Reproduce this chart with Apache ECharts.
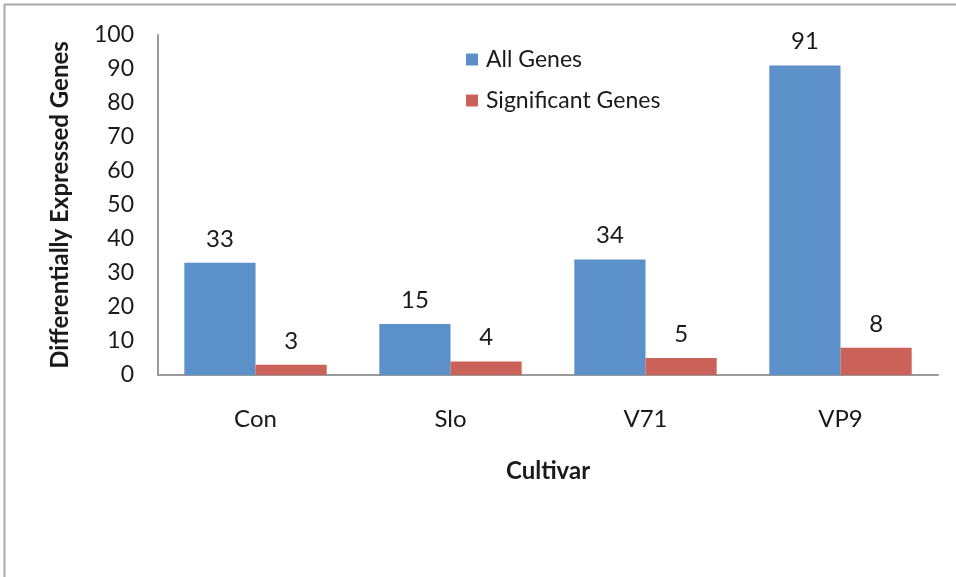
<!DOCTYPE html>
<html><head><meta charset="utf-8">
<script src="https://cdn.jsdelivr.net/npm/echarts@6/dist/echarts.min.js"></script>
<style>html,body{margin:0;padding:0;background:#fff}#c{width:956px;height:577px}</style>
</head><body><div id="c"></div>
<script>
const categories = ['Con', 'Slo', 'V71', 'VP9'];
const allGenes = [33, 15, 34, 91];
const sigGenes = [3, 4, 5, 8];
const yTicks = [0, 10, 20, 30, 40, 50, 60, 70, 80, 90, 100];

const FONT = 'Lato';
const chart = echarts.init(document.getElementById('c'), null, {renderer: 'canvas'});
chart.setOption({
  animation: false,
  backgroundColor: '#fff',
  textStyle: {fontFamily: FONT},
  graphic: [
    {type: 'line', shape: {x1: 4, y1: 4.5, x2: 956, y2: 4.5}, style: {stroke: '#aaaaaa', lineWidth: 2}},
    {type: 'line', shape: {x1: 4.5, y1: 4, x2: 4.5, y2: 577}, style: {stroke: '#aaaaaa', lineWidth: 2}}
  ],
  legend: {
    left: 466, top: 48, orient: 'vertical', itemGap: 18, padding: 0,
    itemWidth: 12, itemHeight: 12, icon: 'rect',
    textStyle: {fontSize: 23, color: '#1a1a1a', fontFamily: FONT, padding: [0, 0, 0, 3]},
    data: ['All Genes', 'Significant Genes']
  },
  grid: {left: 158, right: 18, top: 35, bottom: 202, containLabel: false},
  xAxis: {
    type: 'category', data: categories,
    axisLine: {lineStyle: {color: '#999', width: 2}},
    axisTick: {show: false},
    axisLabel: {fontSize: 24, color: '#1a1a1a', margin: 32, fontFamily: FONT},
    name: 'Cultivar', nameLocation: 'middle', nameGap: 84,
    nameTextStyle: {fontSize: 24, fontWeight: 'bold', color: '#1a1a1a', fontFamily: FONT}
  },
  yAxis: {
    type: 'value', min: yTicks[0], max: yTicks[yTicks.length - 1], interval: 10,
    axisLine: {show: true, lineStyle: {color: '#999', width: 2}},
    axisTick: {show: false},
    splitLine: {show: false},
    axisLabel: {fontSize: 23, color: '#1a1a1a', margin: 24, fontFamily: FONT, padding: [6, 0, 0, 0]},
    name: 'Differentially Expressed Genes', nameLocation: 'middle', nameGap: 86,
    nameTextStyle: {fontSize: 24, fontWeight: 'bold', color: '#1a1a1a', fontFamily: FONT}
  },
  series: [
    {name: 'All Genes', type: 'bar', data: allGenes, barGap: '0%', barCategoryGap: '27%',
     itemStyle: {color: '#5B90C8'},
     label: {show: true, position: 'top', distance: 12, fontSize: 24, color: '#1a1a1a', fontFamily: FONT}},
    {name: 'Significant Genes', type: 'bar', data: sigGenes,
     itemStyle: {color: '#CB6259'},
     label: {show: true, position: 'top', distance: 12, fontSize: 24, color: '#1a1a1a', fontFamily: FONT}}
  ]
});
</script></body></html>
